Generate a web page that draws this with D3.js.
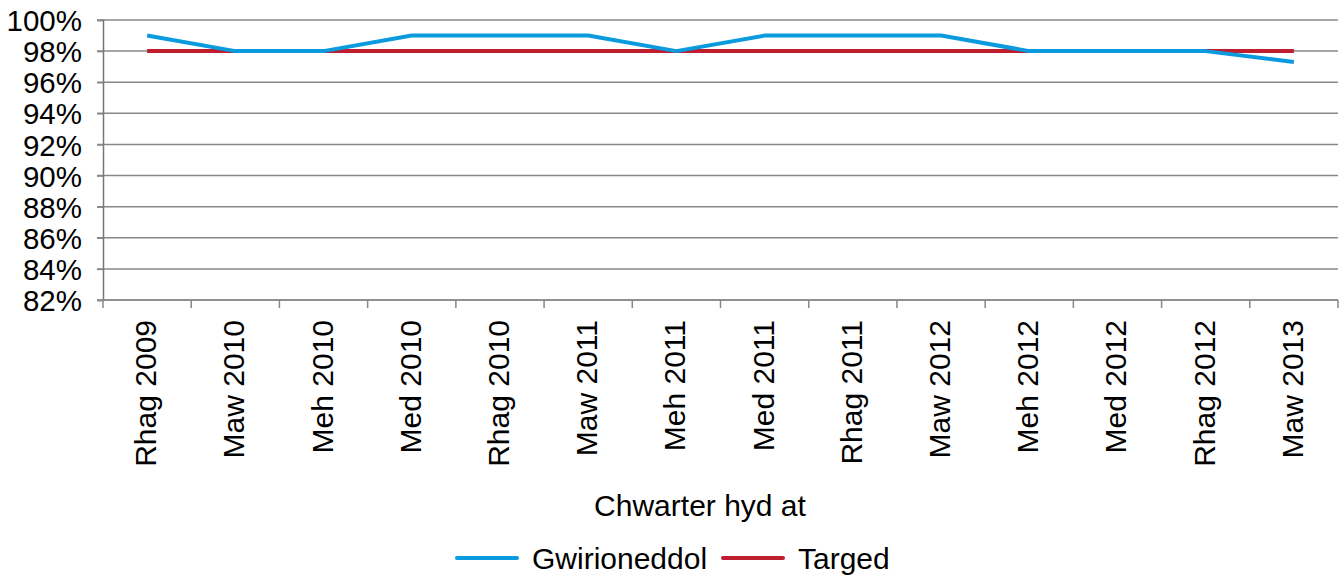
<!DOCTYPE html>
<html>
<head>
<meta charset="utf-8">
<script src="https://cdn.jsdelivr.net/npm/d3@7"></script>
<style>
  body { margin: 0; background: #fff; }
  svg { font-family: "Liberation Sans", Arial, sans-serif; }
</style>
</head>
<body>
<svg id="chart" width="1343" height="577"></svg>
<script>
const quarters = ['Rhag 2009', 'Maw 2010', 'Meh 2010', 'Med 2010', 'Rhag 2010', 'Maw 2011', 'Meh 2011',
  'Med 2011', 'Rhag 2011', 'Maw 2012', 'Meh 2012', 'Med 2012', 'Rhag 2012', 'Maw 2013']
const actual = [99, 98, 98, 99, 99, 99, 98, 99, 99, 99, 98, 98, 98, 97.3]
const target = [98, 98, 98, 98, 98, 98, 98, 98, 98, 98, 98, 98, 98, 98]
const yTicks = [82, 84, 86, 88, 90, 92, 94, 96, 98, 100]
const seriesNames = ['Gwirioneddol', 'Targed']
const colors = ['#0a9ade', '#be1e2d']

const svg = d3.select('#chart')
const plotLeft = 103, plotRight = 1338, plotTop = 20, plotBottom = 300

const x = d3.scaleBand().domain(quarters).range([plotLeft, plotRight])
const y = d3.scaleLinear().domain([82, 100]).range([plotBottom, plotTop])

// grid
svg.append('g')
  .selectAll('line')
  .data(yTicks)
  .join('line')
  .attr('x1', plotLeft - 6)
  .attr('x2', plotRight)
  .attr('y1', d => y(d))
  .attr('y2', d => y(d))
  .attr('stroke', '#888')
  .attr('stroke-width', 1.5)

// y axis
const yAxis = svg.append('g')
  .attr('transform', `translate(${plotLeft},0)`)
  .call(d3.axisLeft(y).tickValues(yTicks).tickSize(6).tickFormat(d => d + '%'))
yAxis.select('.domain').attr('stroke', '#777').attr('stroke-width', 1.5)
yAxis.selectAll('.tick line').attr('stroke', '#888').attr('stroke-width', 1.5)
yAxis.selectAll('text')
  .attr('font-size', 29.5)
  .attr('fill', '#000')
  .attr('x', -21)
  .attr('dy', '0.36em')

// x axis with boundary ticks
const xAxis = svg.append('g').attr('transform', `translate(0,${plotBottom})`)
xAxis.append('line')
  .attr('x1', plotLeft).attr('x2', plotRight)
  .attr('stroke', '#888').attr('stroke-width', 1.5)
const bounds = quarters.map(q => x(q)).concat([plotRight])
xAxis.selectAll('.bt')
  .data(bounds)
  .join('line')
  .attr('class', 'bt')
  .attr('x1', d => d).attr('x2', d => d)
  .attr('y1', 0).attr('y2', 8)
  .attr('stroke', '#888').attr('stroke-width', 1.5)
xAxis.selectAll('text')
  .data(quarters)
  .join('text')
  .attr('transform', d => `translate(${x(d) + x.bandwidth() / 2 + 9},20) rotate(-90)`)
  .attr('text-anchor', 'end')
  .attr('font-size', 30)
  .attr('fill', '#000')
  .text(d => d)

svg.append('text')
  .attr('x', 700)
  .attr('y', 516)
  .attr('text-anchor', 'middle')
  .attr('font-size', 30)
  .text('Chwarter hyd at')

// lines
const line = d3.line()
  .x((d, i) => x(quarters[i]) + x.bandwidth() / 2)
  .y(d => y(d))

svg.append('path')
  .datum(target)
  .attr('d', line)
  .attr('fill', 'none')
  .attr('stroke', colors[1])
  .attr('stroke-width', 4)

svg.append('path')
  .datum(actual)
  .attr('d', line)
  .attr('fill', 'none')
  .attr('stroke', colors[0])
  .attr('stroke-width', 4)
  .attr('stroke-linejoin', 'round')

// legend
const legendX = [457, 723]
const lg = svg.append('g').selectAll('g')
  .data(seriesNames)
  .join('g')
  .attr('transform', (d, i) => `translate(${legendX[i]},558)`)
lg.append('line')
  .attr('x1', 0).attr('x2', 60)
  .attr('stroke', (d, i) => colors[i])
  .attr('stroke-width', 4)
  .attr('stroke-linecap', 'round')
lg.append('text')
  .attr('x', 75)
  .attr('dy', '0.36em')
  .attr('font-size', 30)
  .text(d => d)
</script>
</body>
</html>
